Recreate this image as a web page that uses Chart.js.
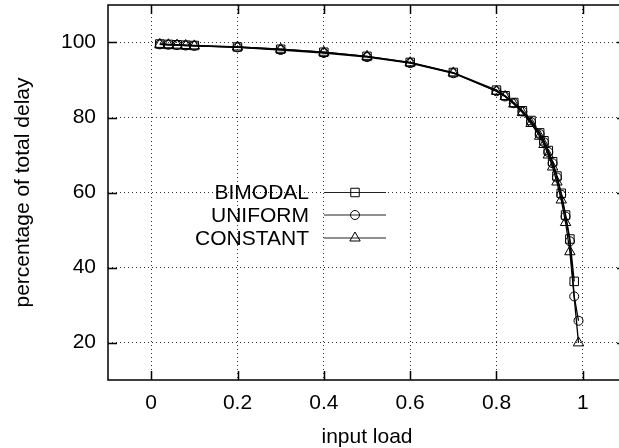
<!DOCTYPE html>
<html>
<head>
<meta charset="utf-8">
<script src="https://cdn.jsdelivr.net/npm/chart.js@4/dist/chart.umd.min.js"></script>
<style>
  html, body { margin: 0; padding: 0; background: #fff; overflow: hidden; }
  #wrap { width: 619px; height: 448px; overflow: hidden; }
  canvas { display: block; }
</style>
</head>
<body>
<div id="wrap"><canvas id="c" width="630" height="448"></canvas></div>
<script>
// Input load values where the delay share was measured
const loads = [0.02, 0.04, 0.06, 0.08, 0.1, 0.2, 0.3, 0.4, 0.5, 0.6, 0.7, 0.8,
  0.82, 0.84, 0.86, 0.88, 0.9, 0.91, 0.92, 0.93, 0.94, 0.95, 0.96, 0.97, 0.98, 0.99];

// Percentage of total delay per service-time distribution (null = not measured)
const bimodal = [99.6, 99.5, 99.4, 99.3, 99.2, 98.8, 98.2, 97.4, 96.3, 94.7, 92.0, 87.3,
  85.8, 84.0, 81.8, 79.2, 75.9, 73.8, 71.2, 68.2, 64.4, 59.8, 54.0, 47.6, 36.3, null];
const uniform = [99.5, 99.4, 99.3, 99.2, 99.1, 98.7, 98.0, 97.2, 96.1, 94.5, 91.8, 87.0,
  85.6, 83.8, 81.6, 78.8, 75.6, 73.4, 70.8, 67.8, 64.0, 59.4, 53.6, 47.0, 32.3, 25.8];
const constant = [99.5, 99.4, 99.3, 99.2, 99.1, 98.8, 98.2, 97.4, 96.3, 94.6, 91.9, 87.0,
  85.6, 83.6, 81.3, 78.4, 75.0, 72.8, 70.0, 66.8, 62.8, 58.0, 52.0, 44.2, null, 19.9];

const seriesNames = ['BIMODAL', 'UNIFORM', 'CONSTANT'];
const xTicks = [0, 0.2, 0.4, 0.6, 0.8, 1];
const yTicks = [20, 40, 60, 80, 100];

const FONT = 'Liberation Sans, Arial, Helvetica, sans-serif';

function toPoints(ys) {
  return loads.map((x, i) => ({ x: x, y: ys[i] })).filter(p => p.y !== null);
}

const styles = [
  { pointStyle: 'rect', pointRadius: 6 },
  { pointStyle: 'circle', pointRadius: 4.5 },
  { pointStyle: 'triangle', pointRadius: 6 }
];

const datasets = [bimodal, uniform, constant].map((ys, i) => ({
  label: seriesNames[i],
  data: toPoints(ys),
  borderColor: '#000',
  borderWidth: 1.3,
  backgroundColor: 'rgba(0,0,0,0)',
  pointStyle: styles[i].pointStyle,
  pointRadius: styles[i].pointRadius,
  pointBorderColor: '#000',
  pointBackgroundColor: 'rgba(0,0,0,0)',
  pointBorderWidth: 1,
  tension: 0,
  fill: false
}));

// Marker drawn by hand for the key entries
function drawMarker(ctx, style, r, x, y) {
  ctx.beginPath();
  if (style === 'rect') {
    const s = r * Math.SQRT1_2;
    ctx.rect(x - s, y - s, 2 * s, 2 * s);
  } else if (style === 'circle') {
    ctx.arc(x, y, r, 0, Math.PI * 2);
  } else {
    const h = r * Math.sqrt(3) / 2;
    ctx.moveTo(x, y - r);
    ctx.lineTo(x + h, y + r / 2);
    ctx.lineTo(x - h, y + r / 2);
    ctx.closePath();
  }
  ctx.stroke();
}

// Frame, inward tick marks and the key placed inside the plot
const framePlugin = {
  id: 'frame',
  afterDatasetsDraw(chart) {
    const { ctx, chartArea: a, scales } = chart;
    const tl = 9;
    ctx.save();
    ctx.strokeStyle = '#000';
    ctx.lineWidth = 1.5;
    ctx.strokeRect(a.left, a.top, a.right - a.left, a.bottom - a.top);
    ctx.beginPath();
    xTicks.forEach(v => {
      const px = Math.round(scales.x.getPixelForValue(v)) + 0.5;
      ctx.moveTo(px, a.bottom); ctx.lineTo(px, a.bottom - tl);
      ctx.moveTo(px, a.top); ctx.lineTo(px, a.top + tl);
    });
    yTicks.forEach(v => {
      const py = Math.round(scales.y.getPixelForValue(v)) + 0.5;
      ctx.moveTo(a.left, py); ctx.lineTo(a.left + tl, py);
      ctx.moveTo(a.right, py); ctx.lineTo(a.right - tl, py);
    });
    ctx.stroke();

    // key
    const textRight = 309, lineL = 324, lineR = 386, markX = 355;
    const rows = [192.5, 215, 238];
    ctx.font = '21px ' + FONT;
    ctx.fillStyle = '#000';
    ctx.textAlign = 'right';
    ctx.textBaseline = 'middle';
    chart.data.datasets.forEach((ds, i) => {
      const y = rows[i];
      ctx.fillText(ds.label, textRight, y + 1);
      ctx.strokeStyle = '#222';
      ctx.lineWidth = 1.1;
      ctx.beginPath();
      ctx.moveTo(lineL, y); ctx.lineTo(lineR, y);
      ctx.stroke();
      ctx.lineWidth = 1;
      ctx.strokeStyle = '#000';
      drawMarker(ctx, ds.pointStyle, ds.pointRadius, markX, y);
    });
    ctx.restore();
  }
};

new Chart(document.getElementById('c'), {
  type: 'line',
  data: { datasets: datasets },
  plugins: [framePlugin],
  options: {
    responsive: false,
    animation: false,
    devicePixelRatio: 1,
    layout: { autoPadding: false, padding: { top: 5, right: 4, left: 0, bottom: 0 } },
    plugins: { legend: { display: false }, tooltip: { enabled: false } },
    scales: {
      x: {
        type: 'linear',
        min: -0.1,
        max: 1.1,
        afterBuildTicks: s => { s.ticks = xTicks.map(v => ({ value: v })); },
        afterFit: s => { s.height = 68; s.paddingLeft = 0; s.paddingRight = 0; },
        grid: { color: '#333', lineWidth: 1, drawTicks: false },
        border: { display: false, dash: [1, 3] },
        ticks: {
          color: '#000', font: { family: FONT, size: 21 }, padding: 11,
          maxRotation: 0, autoSkip: false,
          callback: v => String(parseFloat(Number(v).toFixed(2)))
        },
        title: {
          display: true, text: 'input load', color: '#000',
          font: { family: FONT, size: 21, lineHeight: 1 }, padding: 0
        }
      },
      y: {
        type: 'linear',
        min: 10,
        max: 110,
        afterBuildTicks: s => { s.ticks = yTicks.map(v => ({ value: v })); },
        afterFit: s => { s.width = 108; s.paddingTop = 0; s.paddingBottom = 0; },
        grid: { color: '#333', lineWidth: 1, drawTicks: false },
        border: { display: false, dash: [1, 3] },
        ticks: {
          color: '#000', font: { family: FONT, size: 21 }, padding: 12,
          autoSkip: false
        },
        title: {
          display: true, text: 'percentage of total delay', color: '#000',
          font: { family: FONT, size: 21, lineHeight: 1 }, padding: { top: 13, bottom: 0 }
        }
      }
    }
  }
});
</script>
</body>
</html>
